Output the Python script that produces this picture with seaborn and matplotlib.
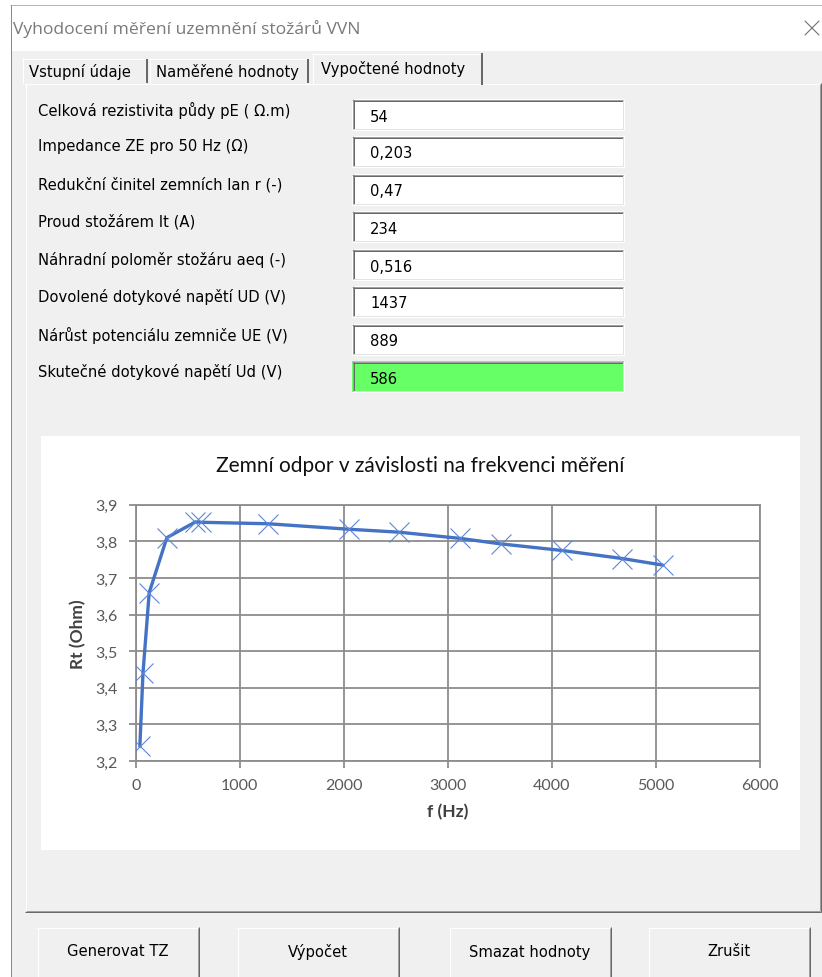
import numpy as np
import matplotlib
matplotlib.use("Agg")
import matplotlib.pyplot as plt
from matplotlib.patches import Rectangle
from matplotlib.ticker import FuncFormatter
import pandas as pd
import seaborn as sns

# ==========================================================
# DATA
# ==========================================================

freq_hz = [40, 70, 130, 300, 575, 630, 1270, 2050, 2530, 3120, 3510, 4100, 4680, 5070]
rt_ohm = [3.24, 3.44, 3.66, 3.81, 3.853, 3.852, 3.848, 3.833, 3.825, 3.808, 3.793, 3.775, 3.753, 3.735]

x_ticks = [0, 1000, 2000, 3000, 4000, 5000, 6000]
y_ticks = [3.2, 3.3, 3.4, 3.5, 3.6, 3.7, 3.8, 3.9]

field_labels = [
    "Celková rezistivita půdy pE ( Ω.m)",
    "Impedance ZE pro 50 Hz (Ω)",
    "Redukční činitel zemních lan r (-)",
    "Proud stožárem It (A)",
    "Náhradní poloměr stožáru aeq (-)",
    "Dovolené dotykové napětí UD (V)",
    "Nárůst potenciálu zemniče UE (V)",
    "Skutečné dotykové napětí Ud (V)",
]
field_values = ["54", "0,203", "0,47", "234", "0,516", "1437", "889", "586"]

tab_names = ["Vstupní údaje", "Naměřené hodnoty", "Vypočtené hodnoty"]
button_names = ["Generovat TZ", "Výpočet", "Smazat hodnoty", "Zrušit"]

window_title = "Vyhodocení měření uzemnění stožárů VVN"
chart_title = "Zemní odpor v závislosti na frekvenci měření"

df = pd.DataFrame({"f": freq_hz, "Rt": rt_ohm})

# ==========================================================
# FIGURE / DIALOG BACKGROUND
# ==========================================================

sns.set_style("white")
plt.rcParams["font.family"] = ["DejaVu Sans"]

UI_SIZE = 10.6
W, H = 822, 978
fig = plt.figure(figsize=(W / 100, H / 100), dpi=100, facecolor="white")

bg = fig.add_axes([0, 0, 1, 1], zorder=0)
bg.set_xlim(0, W)
bg.set_ylim(H, 0)
bg.axis("off")

PX = 0.72  # one pixel in points


def hline(x0, x1, y, c, lw=1):
    bg.plot([x0, x1], [y, y], color=c, lw=lw * PX, solid_capstyle="butt")


def vline(x, y0, y1, c, lw=1):
    bg.plot([x, x], [y0, y1], color=c, lw=lw * PX, solid_capstyle="butt")


def bevel(x, y, w, h, face, tl, br, tl2=None, br2=None):
    bg.add_patch(Rectangle((x, y), w, h, facecolor=face, edgecolor="none"))
    hline(x, x + w, y + 0.5, tl)
    vline(x + 0.5, y, y + h, tl)
    hline(x, x + w, y + h - 0.5, br)
    vline(x + w - 0.5, y, y + h, br)
    if tl2:
        hline(x + 1, x + w - 1, y + 1.5, tl2)
        vline(x + 1.5, y + 1, y + h - 1, tl2)
    if br2:
        hline(x + 1, x + w - 1, y + h - 1.5, br2)
        vline(x + w - 1.5, y + 1, y + h - 1, br2)


# window body
bg.add_patch(Rectangle((11, 52), W - 11, H - 52, facecolor="#f0f0f0", edgecolor="none"))
hline(10, W, 6, "#b4b4b4")
vline(10.5, 6, H, "#8a8a8a")

bg.text(13, 29, window_title, fontsize=12.6, color="#7a7a7a", va="center",
        family=["Open Sans", "DejaVu Sans"])
bg.plot([805, 819], [22, 36], color="#707070", lw=0.8)
bg.plot([805, 819], [36, 22], color="#707070", lw=0.8)

# tab page
bevel(25, 84, 796, 829, "#f0f0f0", "white", "#696969", br2="#a0a0a0")

# tabs
tab_x = [22, 149, 312]
tab_w = [126, 160, 170]
for i, name in enumerate(tab_names):
    if i == 2:
        bg.add_patch(Rectangle((tab_x[i], 54), tab_w[i], 32, facecolor="#f0f0f0", edgecolor="none"))
        hline(tab_x[i], tab_x[i] + tab_w[i], 54.5, "white")
        vline(tab_x[i] + 0.5, 54, 85, "white")
        vline(tab_x[i] + tab_w[i] - 0.5, 54, 86, "#696969", 2)
        bg.text(tab_x[i] + 9, 69, name, fontsize=UI_SIZE, color="black", va="center")
    else:
        hline(tab_x[i], tab_x[i] + tab_w[i], 59.5, "white")
        vline(tab_x[i] + 0.5, 59, 84, "white")
        vline(tab_x[i] + tab_w[i] - 1, 60, 84, "#696969", 2)
        bg.text(tab_x[i] + 7, 72, name, fontsize=UI_SIZE, color="black", va="center")

# fields
row_top = [100, 137, 175, 212, 250, 287, 325, 362]
for i, (lab, val) in enumerate(zip(field_labels, field_values)):
    y0 = row_top[i]
    bg.text(38, y0 + 10, lab, fontsize=UI_SIZE, color="black", va="center")
    face = "#66ff66" if i == len(field_labels) - 1 else "white"
    bevel(352, y0, 272, 31, face, "#a0a0a0", "white", tl2="#696969", br2="#e3e3e3")
    bg.text(370, y0 + 17, val, fontsize=UI_SIZE, color="black", va="center")

# buttons
btn_x = [37, 237, 449, 648]
for bx, name in zip(btn_x, button_names):
    bevel(bx, 928, 162, 52, "#f0f0f0", "white", "#696969", br2="#a0a0a0")
    bg.text(bx + 81, 952, name, fontsize=UI_SIZE, color="black", ha="center", va="center")

# chart panel
bg.add_patch(Rectangle((41, 437), 759, 414, facecolor="white", edgecolor="none"))
bg.text(420, 466, chart_title, fontsize=15, color="#111111", ha="center", va="center",
        family=["Lato", "DejaVu Sans"])

# ==========================================================
# CHART
# ==========================================================

left, right, top, bottom = 135.7, 759.5, 505.7, 762.0
ax = fig.add_axes([left / W, 1 - bottom / H, (right - left) / W, (bottom - top) / H], zorder=1)
ax.set_facecolor("white")

grid_c = "#8c8c8c"
sns.lineplot(data=df, x="f", y="Rt", ax=ax, color="#4472c4", lw=2.4,
             marker="x", markersize=15, markeredgewidth=0.8,
             markeredgecolor="#5b86d8", zorder=3)

ax.set_xlim(0, 6000)
ax.set_ylim(3.2, 3.9)
ax.set_xticks(x_ticks)
ax.set_yticks(y_ticks)
ax.xaxis.set_major_formatter(FuncFormatter(lambda v, p: f"{v:.0f}"))
ax.yaxis.set_major_formatter(FuncFormatter(lambda v, p: f"{v:.1f}".replace(".", ",")))
ax.grid(True, color=grid_c, lw=1.3)
for s in ax.spines.values():
    s.set_visible(True)
    s.set_color(grid_c)
    s.set_linewidth(1.3)

ax.tick_params(axis="x", direction="out", length=5, width=1.3, color=grid_c, pad=7,
               labelsize=11.5, labelcolor="#595959", bottom=True)
ax.tick_params(axis="y", direction="out", length=5, width=1.3, color=grid_c, pad=8,
               labelsize=11.5, labelcolor="#595959", left=True)
for t in ax.get_xticklabels() + ax.get_yticklabels():
    t.set_family(["Lato", "DejaVu Sans"])

ax.set_xlabel("f (Hz)", fontsize=12.5, fontweight="bold", color="#404040",
              family=["Lato", "DejaVu Sans"])
ax.set_ylabel("Rt (Ohm)", fontsize=12.5, fontweight="bold", color="#404040",
              family=["Lato", "DejaVu Sans"])
ax.xaxis.set_label_coords(0.5, -0.165)
ax.yaxis.set_label_coords(-0.08, 0.5)

fig.savefig("out.png", dpi=100, facecolor="white")
